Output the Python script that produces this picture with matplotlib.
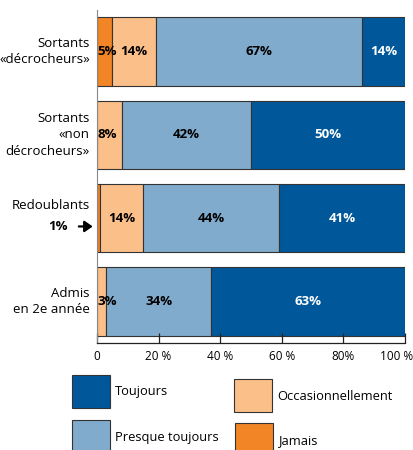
import matplotlib.pyplot as plt
import matplotlib.transforms as mtransforms
from matplotlib.patches import Rectangle
import numpy as np

plt.rcParams["font.family"] = ["Open Sans", "DejaVu Sans"]

# Data (percent)
categories = ["Sortants\n«décrocheurs»", "Sortants\n«non\ndécrocheurs»",
              "Redoublants", "Admis\nen 2e année"]
series_names = ["Jamais", "Occasionnellement", "Presque toujours", "Toujours"]
jamais = [5, 0, 1, 0]
occasionnellement = [14, 8, 14, 3]
presque_toujours = [67, 42, 44, 34]
toujours = [14, 50, 41, 63]
tick_values = [0, 20, 40, 60, 80, 100]
tick_labels = ["0", "20 %", "40 %", "60 %", "80%", "100 %"]

colors = {"Jamais": "#f28526", "Occasionnellement": "#fbbf8a",
          "Presque toujours": "#80abcc", "Toujours": "#00589b"}
text_colors = {"Jamais": "black", "Occasionnellement": "black",
               "Presque toujours": "black", "Toujours": "white"}

fig = plt.figure(figsize=(4.14, 4.5), dpi=100)
ax = fig.add_axes([97 / 414, 1 - 343 / 450, 308 / 414, 333 / 450])

y = np.arange(len(categories))
left = np.zeros(len(categories))
for name, vals in zip(series_names, [jamais, occasionnellement, presque_toujours, toujours]):
    vals = np.array(vals, dtype=float)
    ax.barh(y, vals, left=left, height=0.82, color=colors[name],
            edgecolor="#333333", linewidth=0.8)
    for i, v in enumerate(vals):
        if v <= 0 or (name == "Jamais" and v < 2):
            continue
        if v < 10:
            ax.text(left[i] + 0.2, y[i], f"{int(v)}%", ha="left", va="center",
                    fontsize=9.5, fontweight="bold", color=text_colors[name])
        else:
            ax.text(left[i] + v / 2, y[i], f"{int(v)}%", ha="center", va="center",
                    fontsize=9.5, fontweight="bold", color=text_colors[name])
    left += vals

ax.set_xlim(0, 100)
ax.set_ylim(3.5, -0.5)
ax.set_yticks([])
ax.set_xticks(tick_values)
ax.set_xticklabels(tick_labels, fontsize=8.5)
ax.tick_params(axis="x", direction="in", length=7, width=0.9, pad=5, color="#222222")
# keep the last tick label inside the figure, as in the original
last = ax.get_xticklabels()[-1]
last.set_horizontalalignment("right")
last.set_transform(last.get_transform() +
                   mtransforms.ScaledTranslation(8 / 100, 0, fig.dpi_scale_trans))
for s in ["top", "right"]:
    ax.spines[s].set_visible(False)
ax.spines["left"].set_color("#888888")
ax.spines["bottom"].set_color("#222222")
ax.spines["bottom"].set_linewidth(0.9)

# category labels
label_y = [0, 0, -0.15, 0]
for i, cat in enumerate(categories):
    ax.text(-2.3, y[i] + label_y[i], cat, ha="right", va="center",
            fontsize=9.5, linespacing=1.35)

# 1% arrow for Redoublants
ax.annotate("1%", xy=(-1.4, 2.1), xytext=(-9.5, 2.1), ha="right", va="center",
            fontsize=9.5, fontweight="bold", annotation_clip=False,
            arrowprops=dict(arrowstyle="-|>,head_width=0.35,head_length=0.5",
                            color="black", lw=1.6, shrinkA=6, shrinkB=0))

# legend boxes
legend_items = [("Toujours", 72, 375, 115, 392),
                ("Occasionnellement", 234, 379, 277, 396),
                ("Presque toujours", 72, 420, 115, 438),
                ("Jamais", 235, 423, 279, 441)]
for name, bx, by, tx, ty in legend_items:
    fig.patches.append(Rectangle((bx / 414, 1 - (by + 33) / 450), 38 / 414, 33 / 450,
                                 transform=fig.transFigure, facecolor=colors[name],
                                 edgecolor="#333333", linewidth=0.8))
    fig.text(tx / 414, 1 - ty / 450, name, ha="left", va="center", fontsize=9.3)

fig.savefig("out.png", dpi=100)
